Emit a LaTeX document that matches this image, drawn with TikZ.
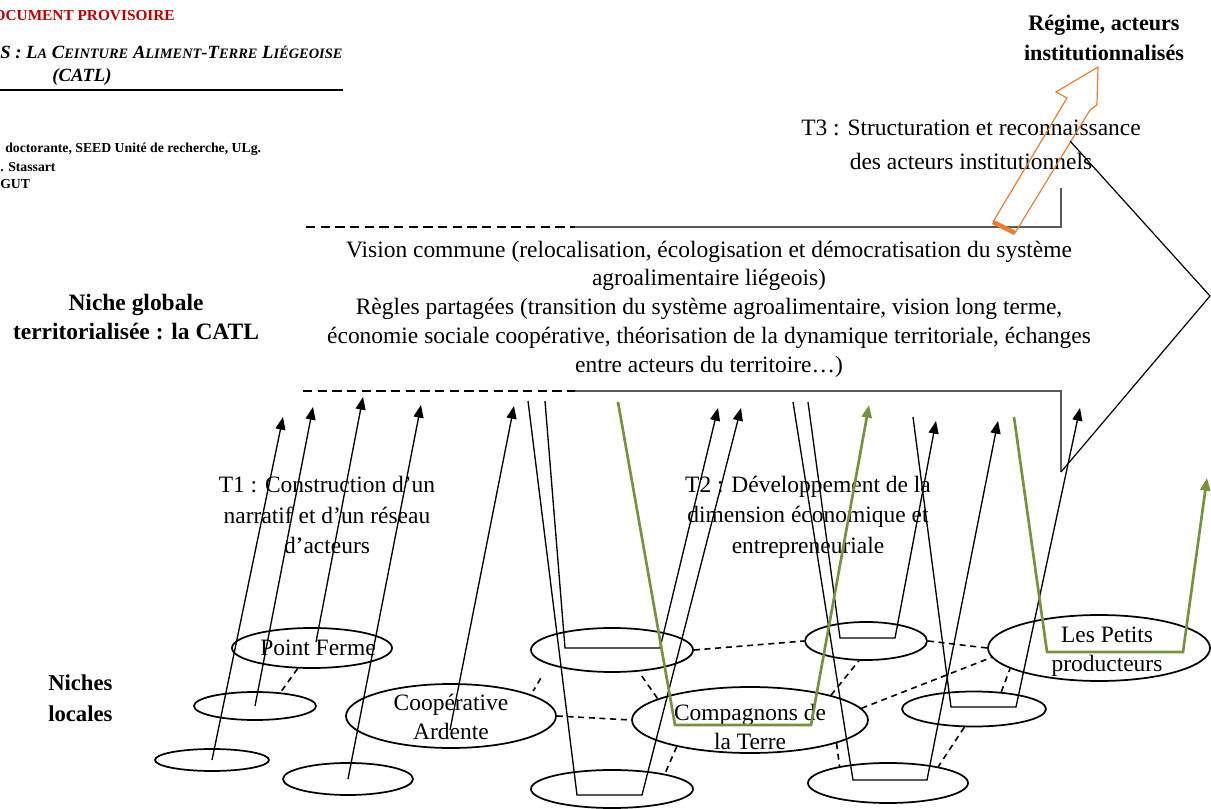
\documentclass[tikz,border=0pt]{standalone}
\usepackage{fontspec}
\setmainfont{Liberation Serif}
\usetikzlibrary{positioning}
\usetikzlibrary{arrows.meta}
\usetikzlibrary{shapes.geometric}
\usetikzlibrary{calc}

\definecolor{vert}{RGB}{118,146,60}
\definecolor{orangeT}{RGB}{237,125,49}
\definecolor{rouge}{RGB}{192,0,0}

\newcommand{\txtfont}{\fontsize{17.6}{21.6}\selectfont}
\newcommand{\smc}[1]{{\fontsize{10.8}{12}\selectfont #1}}

\tikzset{
  niche/.style 2 args={draw,ellipse,line width=1.3pt,inner sep=0pt,
    minimum width=#1*0.75pt,minimum height=#2*0.75pt},
  texte/.style={font=\txtfont,align=center,inner sep=0pt},
  lien/.style={line width=1.2pt,dash pattern=on 4.5pt off 3.5pt},
  fleche/.style={line width=1pt,-{Triangle[length=9.5pt,width=7.5pt]}},
  fleche vert/.style={line width=2pt,draw=vert,-{Triangle[length=9.5pt,width=7.5pt]},vert},
  cadre/.style={line width=1.5pt,draw=black!65},
  cadre pointille/.style={line width=1.2pt,dash pattern=on 7pt off 4pt},
}

\begin{document}
\begin{tikzpicture}[x=0.75pt,y=-0.75pt]

\useasboundingbox (0,0) rectangle (1211,809);

% en-tete du document
\node[font=\bfseries\fontsize{11.5}{13}\selectfont,text=rouge,anchor=east,inner sep=0pt] (provisoire) at (175,16) {DOCUMENT PROVISOIRE};
\node[font=\bfseries\itshape\fontsize{14}{16}\selectfont,anchor=west,inner sep=0pt] (titre) at (0,52) {S : L\smc{A} C\smc{EINTURE} A\smc{LIMENT}-T\smc{ERRE} L\smc{IÉGEOISE}};
\node[font=\bfseries\itshape\fontsize{14}{16}\selectfont,inner sep=0pt] (catl) at (82,77) {(CATL)};
\draw[line width=1.1pt] (0,90) -- (343,90);
\node[font=\bfseries\fontsize{10.3}{12}\selectfont,anchor=west,inner sep=0pt] (auteur) at (5,149) {doctorante, SEED Unité de recherche, ULg.};
\node[font=\bfseries\fontsize{10.3}{12}\selectfont,anchor=west,inner sep=0pt] (promo) at (0,167) {. Stassart};
\node[font=\bfseries\fontsize{10.3}{12}\selectfont,anchor=west,inner sep=0pt] (gut) at (0,184) {GUT};

% niveaux
\node[texte,font=\bfseries\fontsize{16.6}{23}\selectfont] (regime) at (1104,38) {Régime, acteurs\\institutionnalisés};
\node[texte,font=\bfseries\fontsize{17.6}{22}\selectfont] (globale) at (136,317) {Niche globale\\territorialisée : la CATL};
\node[texte,font=\bfseries\fontsize{17}{23}\selectfont,align=left,anchor=west] (locales) at (48,698) {Niches\\locales};

% niche globale
\node[texte] (vision) at (709,309) {Vision commune (relocalisation, écologisation et démocratisation du système\\agroalimentaire liégeois)\\Règles partagées (transition du système agroalimentaire, vision long terme,\\économie sociale coopérative, théorisation de la dynamique territoriale, échanges\\entre acteurs du territoire…)};

\coordinate (hg) at (306,227);
\coordinate (hm) at (575,227);
\coordinate (hd) at (1061,227);
\coordinate (hh) at (1061,188);
\coordinate (bg) at (303,391);
\coordinate (bm) at (575,391);
\coordinate (bd) at (1061,391);
\coordinate (bb) at (1061,472);
\draw[cadre pointille] (hg) -- (hm);
\draw[cadre] (hm) -- (hd) -- (hh);
\draw[cadre pointille] (bg) -- (bm);
\draw[cadre] (bm) -- (bd) -- (bb);

% trajectoires
\node[texte,font=\fontsize{17.6}{22.8}\selectfont] (T1) at (327,515) {T1 : Construction d’un\\narratif et d’un réseau\\d’acteurs};
\node[texte,font=\fontsize{17.6}{22.8}\selectfont] (T2) at (808,517) {T2 : Développement de la\\dimension économique et\\entrepreneuriale};
\node[texte,font=\fontsize{17.6}{26}\selectfont] (T3) at (971,145) {T3 : Structuration et reconnaissance\\des acteurs institutionnels};

% fleche T3 vers le regime
\coordinate (o1) at (993,222);
\coordinate (o2) at (1067,98);
\coordinate (o3) at (1056,92);
\coordinate (o4) at (1098,67);
\coordinate (o5) at (1097,105);
\coordinate (o6) at (1090,110);
\coordinate (o7) at (1015,233);
\draw[orangeT,line width=0.9pt,line join=miter] (o1) -- (o2) -- (o3) -- (o4) -- (o5) -- (o6) -- (o7);
\draw[orangeT,line width=3.5pt] (o1) -- (o7);

\coordinate (r0) at (1070,141);
\coordinate (r1) at (1210,296);
\draw[line width=0.9pt] (bb) -- (r1) -- (r0);

% niches locales
\node[niche={160}{40},label={[texte,xshift=4.5pt]center:Point Ferme}] (PF) at (312,648) {};
\node[niche={122}{28}] (A) at (255,706) {};
\node[niche={114}{22}] (B) at (212,760) {};
\node[niche={130}{32}] (C) at (348,779) {};
\node[niche={210}{64},label={[texte,yshift=-1pt]center:Coopérative\\Ardente}] (Coop) at (451,716) {};
\node[niche={162}{44}] (D) at (612,650) {};
\node[niche={162}{38}] (E) at (612,789) {};
\node[niche={236}{66},label={[texte,yshift=-5pt]center:Compagnons de\\la Terre}] (Comp) at (750,720) {};
\node[niche={122}{38}] (F) at (866,641) {};
\node[niche={144}{35}] (G) at (974,709) {};
\node[niche={160}{40}] (H) at (888,783) {};
\node[niche={222}{66},label={[texte,xshift=6pt,yshift=-3pt]center:Les Petits\\producteurs}] (Petits) at (1099,648) {};

% liens entre niches
\draw[lien] (PF.235) -- (A.28);
\draw[lien,shorten <=12pt,shorten >=3pt] (D.193) -- (Coop.15);
\draw[lien] (Coop.east) -- (Comp.west);
\draw[lien,shorten <=4pt] (D.321) -- (Comp.167);
\draw[lien] (D.east) -- (F.west);
\draw[lien] (Comp.200) -- (E.16);
\draw[lien] (Comp.17) -- (F.250);
\draw[lien] (Comp.6) -- (Petits.185);
\draw[lien] (F.east) -- (Petits.west);
\draw[lien] (Comp.345) -- (H.161);
\draw[lien] (G.242) -- (H.18);
\draw[lien] (G.32) -- (Petits.193);

% T1 : fleches vers la niche globale
\coordinate (t1) at (283,417);
\coordinate (t2) at (313,407);
\coordinate (t3) at (363,397);
\coordinate (t4) at (421,405);
\coordinate (t5) at (514,406);
\draw[fleche] (B.center) -- (t1);
\draw[fleche] (A.center) -- (t2);
\draw[fleche] ($(PF.center)+(4,-6)$) -- (t3);
\draw[fleche] (C.center) -- (t4);
\draw[fleche] ($(Coop.center)+(-1,14)$) -- (t5);

% T2 : allers-retours
\coordinate (d0) at (545,401);
\coordinate (d1) at (565,648);
\coordinate (d2) at (660,648);
\coordinate (dT) at (718,408);
\coordinate (e0) at (528,401);
\coordinate (e1) at (577,795);
\coordinate (e2) at (642,795);
\coordinate (eT) at (741,408);
\coordinate (f0) at (808,402);
\coordinate (f1) at (840,638);
\coordinate (f2) at (895,638);
\coordinate (fT) at (936,421);
\coordinate (h0) at (793,402);
\coordinate (h1) at (853,780);
\coordinate (h2) at (927,780);
\coordinate (hT) at (998,421);
\coordinate (k0) at (913,417);
\coordinate (k1) at (951,707);
\coordinate (k2) at (1016,707);
\coordinate (kT) at (1080,408);
\draw[fleche] (d0) -- (d1) -- (d2) -- (dT);
\draw[fleche] (e0) -- (e1) -- (e2) -- (eT);
\draw[fleche] (f0) -- (f1) -- (f2) -- (fT);
\draw[fleche] (h0) -- (h1) -- (h2) -- (hT);
\draw[fleche] (k0) -- (k1) -- (k2) -- (kT);

% trajectoires en vert
\coordinate (g0) at (618,402);
\coordinate (g1) at (675,725);
\coordinate (g2) at (811,725);
\coordinate (gT) at (869,405);
\coordinate (p0) at (1014,417);
\coordinate (p1) at (1047,652);
\coordinate (p2) at (1183,652);
\coordinate (pT) at (1207,478);
\draw[fleche vert] (g0) -- (g1) -- (g2) -- (gT);
\draw[fleche vert] (p0) -- (p1) -- (p2) -- (pT);

\end{tikzpicture}
\end{document}
